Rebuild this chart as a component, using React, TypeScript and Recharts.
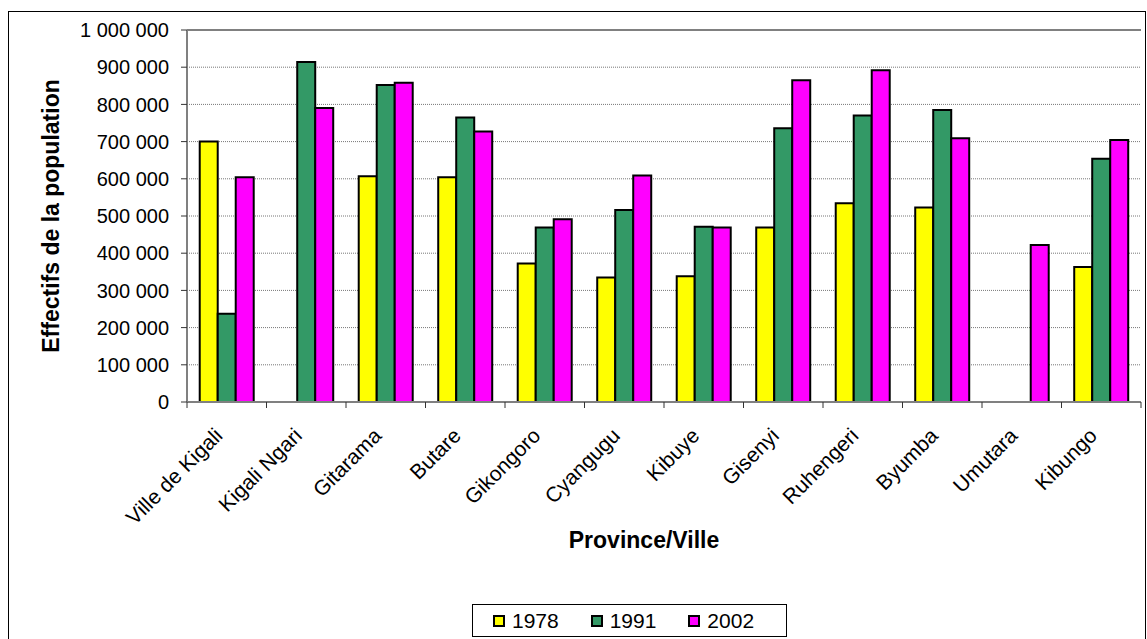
import React from "react"
import {
  BarChart,
  Bar,
  XAxis,
  YAxis,
  CartesianGrid,
  Legend,
  ReferenceLine,
} from "recharts"

const CATEGORIES = [
  "Ville de Kigali",
  "Kigali Ngari",
  "Gitarama",
  "Butare",
  "Gikongoro",
  "Cyangugu",
  "Kibuye",
  "Gisenyi",
  "Ruhengeri",
  "Byumba",
  "Umutara",
  "Kibungo",
]

const POP_1978 = [700000, null, 607000, 604000, 372000, 335000, 338000, 469000, 534000, 523000, null, 363000]
const POP_1991 = [237000, 914000, 852000, 765000, 469000, 516000, 471000, 736000, 770000, 785000, null, 654000]
const POP_2002 = [604000, 790000, 858000, 727000, 491000, 609000, 469000, 865000, 892000, 709000, 422000, 704000]

const YEARS = ["1978", "1991", "2002"]
const COLORS = ["#FFFF00", "#339966", "#FF00FF"]
const Y_TICKS = [0, 100000, 200000, 300000, 400000, 500000, 600000, 700000, 800000, 900000, 1000000]

const data = CATEGORIES.map((name, i) => ({
  name,
  y1978: POP_1978[i],
  y1991: POP_1991[i],
  y2002: POP_2002[i],
}))

const FONT = "'Liberation Sans', Arial, sans-serif"

// "1 000 000" style thousands
const fmt = (v: number) => String(v).replace(/\B(?=(\d{3})+(?!\d))/g, " ")

function CategoryTick(props: any) {
  const { x, y, payload, index, visibleTicksCount, width } = props
  const half = payload.offset ?? width / visibleTicksCount / 2
  const tx = x - 3
  const ty = y + 35
  return (
    <g>
      <line x1={x - half} x2={x - half} y1={y} y2={y + 6} stroke="#333" />
      {index === visibleTicksCount - 1 && (
        <line x1={x + half} x2={x + half} y1={y} y2={y + 6} stroke="#333" />
      )}
      <text
        x={tx}
        y={ty}
        textAnchor="end"
        fontSize={21}
        fill="#000"
        transform={`rotate(-45, ${tx}, ${ty})`}
      >
        {payload.value}
      </text>
    </g>
  )
}

function renderLegend(props: any) {
  const { payload } = props
  return (
    <div
      style={{
        boxSizing: "border-box",
        width: 315,
        height: 33,
        border: "1px solid #000",
        display: "flex",
        alignItems: "center",
        paddingLeft: 20,
        background: "#fff",
      }}
    >
      {payload.map((entry: any) => (
        <div
          key={entry.value}
          style={{ width: 106, display: "flex", alignItems: "center", fontSize: 21, color: "#000" }}
        >
          <span
            style={{
              boxSizing: "border-box",
              width: 12,
              height: 12,
              border: "2px solid #000",
              background: entry.color,
              marginRight: 7,
              display: "inline-block",
            }}
          />
          <span>{entry.value}</span>
        </div>
      ))}
    </div>
  )
}

export default function App() {
  return (
    <>
      <style>{`html,body{margin:0;overflow:hidden;background:#fff}`}</style>
      <div
        style={{
          position: "absolute",
          left: 8,
          top: 11,
          width: 1136,
          height: 628,
          border: "1px solid #000",
          fontFamily: FONT,
          background: "#fff",
        }}
      >
        <BarChart
          width={1136}
          height={628}
          data={data}
          margin={{ top: 18, right: 4, left: 0, bottom: 0 }}
          barCategoryGap="16%"
          barGap={0}
          style={{ fontFamily: FONT }}
        >
          <CartesianGrid
            vertical={false}
            stroke="#777"
            strokeDasharray="1 1"
          />
          <XAxis
            dataKey="name"
            height={238}
            interval={0}
            tickSize={0}
            tickMargin={0}
            tickLine={false}
            axisLine={{ stroke: "#808080", strokeWidth: 2 }}
            tick={<CategoryTick />}
            label={{
              value: "Province/Ville",
              content: (p: any) => {
                const vb = p.viewBox
                return (
                  <text
                    x={vb.x + vb.width / 2 - 20}
                    y={vb.y + 138}
                    textAnchor="middle"
                    dominantBaseline="central"
                    fontSize={23}
                    fontWeight="bold"
                    fill="#000"
                  >
                    Province/Ville
                  </text>
                )
              },
            }}
          />
          <YAxis
            width={178}
            domain={[0, 1000000]}
            ticks={Y_TICKS}
            interval={0}
            tickFormatter={fmt}
            tickSize={6}
            tickMargin={12}
            tickLine={{ stroke: "#333" }}
            axisLine={{ stroke: "#808080", strokeWidth: 2 }}
            tick={{ fontSize: 20, fill: "#000" }}
            label={{
              value: "Effectifs de la population",
              content: (p: any) => {
                const vb = p.viewBox
                const cx = vb.x + 42
                const cy = vb.y + vb.height / 2
                return (
                  <text
                    x={cx}
                    y={cy}
                    textAnchor="middle"
                    dominantBaseline="central"
                    fontSize={23}
                    fontWeight="bold"
                    fill="#000"
                    transform={`rotate(-90, ${cx}, ${cy})`}
                  >
                    Effectifs de la population
                  </text>
                )
              },
            }}
          />
          <YAxis
            yAxisId="right"
            orientation="right"
            width={0}
            domain={[0, 1000000]}
            tick={false}
            tickLine={false}
            axisLine={{ stroke: "#808080", strokeWidth: 2 }}
          />
          <ReferenceLine y={1000000} stroke="#808080" strokeWidth={2} />
          <Legend
            layout="vertical"
            align="center"
            verticalAlign="middle"
            wrapperStyle={{ position: "absolute", left: 463, top: 592, width: 315, height: 33 }}
            content={renderLegend}
          />
          <Bar dataKey="y1978" name={YEARS[0]} fill={COLORS[0]} stroke="#000" strokeWidth={2} isAnimationActive={false} />
          <Bar dataKey="y1991" name={YEARS[1]} fill={COLORS[1]} stroke="#000" strokeWidth={2} isAnimationActive={false} />
          <Bar dataKey="y2002" name={YEARS[2]} fill={COLORS[2]} stroke="#000" strokeWidth={2} isAnimationActive={false} />
        </BarChart>
      </div>
    </>
  )
}
